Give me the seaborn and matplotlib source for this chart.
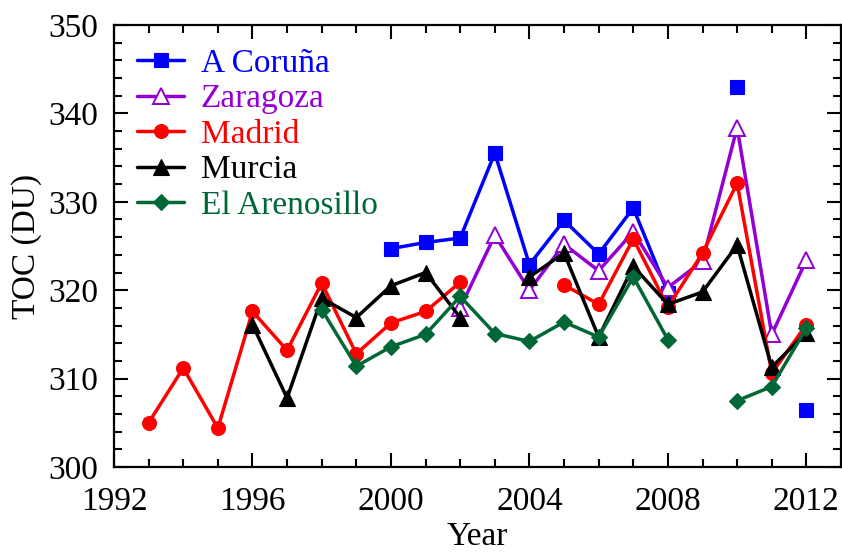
import numpy as np
import pandas as pd
import matplotlib
matplotlib.use("Agg")
import matplotlib.pyplot as plt
from matplotlib.lines import Line2D
from matplotlib.ticker import MultipleLocator
import seaborn as sns

sns.set_theme(style="ticks")
plt.rcParams["font.family"] = ["Liberation Serif", "DejaVu Serif"]
plt.rcParams["text.color"] = "black"
plt.rcParams["axes.labelcolor"] = "black"
plt.rcParams["xtick.color"] = "black"
plt.rcParams["ytick.color"] = "black"

# Annual total ozone column (DU) per station, NaN where no data
years = list(range(1993, 2013))
nan = np.nan
a_coruna = [nan, nan, nan, nan, nan, nan, nan, 324.7, 325.4, 325.9,
            335.5, 322.9, 327.9, 324.1, 329.3, 319.7, nan, 343.0, nan, 306.4]
zaragoza = [nan, nan, nan, nan, nan, nan, nan, nan, nan, 318.0,
            326.2, 320.0, 325.2, 322.2, 326.6, 320.3, 323.3, 338.4, 315.0, 323.4]
madrid = [305.0, 311.2, 304.4, 317.6, 313.2, 320.8, 312.8, 316.3, 317.6, 320.9,
          nan, nan, 320.6, 318.4, 325.8, 318.1, 324.2, 332.1, 310.6, 316.1]
murcia = [nan, nan, nan, 316.1, 307.8, 319.1, 316.9, 320.5, 322.0, 316.9,
          nan, 321.5, 324.2, 314.7, 322.7, 318.4, 319.8, 325.1, 311.3, 315.2]
arenosillo = [nan, nan, nan, nan, nan, 317.8, 311.4, 313.6, 315.0, 319.3,
              315.1, 314.2, 316.4, 314.7, 321.5, 314.4, nan, 307.5, 309.1, 315.7]

stations = ["A Coruña", "Zaragoza", "Madrid", "Murcia", "El Arenosillo"]
series = [a_coruna, zaragoza, madrid, murcia, arenosillo]
colors = ["#0000ff", "#9400d3", "#ff0000", "#000000", "#006837"]
markers = ["s", "^", "o", "^", "D"]
msizes = [10, 11, 10, 11, 8.5]
filled = [True, False, True, True, True]

x_ticks = [1992, 1996, 2000, 2004, 2008, 2012]
y_ticks = [300, 310, 320, 330, 340, 350]

# Long-form table; consecutive valid years share a segment id so gaps stay open
rows = []
for name, vals in zip(stations, series):
    seg = 0
    prev_ok = False
    for yr, v in zip(years, vals):
        ok = not np.isnan(v)
        if ok and not prev_ok:
            seg += 1
        if ok:
            rows.append({"Year": yr, "TOC": v, "station": name, "segment": seg})
        prev_ok = ok
df = pd.DataFrame(rows)

fig = plt.figure(figsize=(8.42, 5.59), dpi=100)
ax = fig.add_axes([0.1354, 0.1646, 0.8634, 0.7907])

handles = []
for name, col, mk, ms, fl in zip(stations, colors, markers, msizes, filled):
    sub = df[df["station"] == name]
    mfc = col if fl else "white"
    mew = 1.4 if not fl else 0.8
    sns.lineplot(data=sub, x="Year", y="TOC", units="segment", estimator=None,
                 color=col, marker=mk, markersize=ms, markerfacecolor=mfc,
                 markeredgecolor=col, markeredgewidth=mew,
                 linewidth=2.5, legend=False, ax=ax)
    handles.append(Line2D([], [], color=col, marker=mk, markersize=ms,
                          markerfacecolor=mfc, markeredgecolor=col,
                          markeredgewidth=mew, linewidth=2.5))

ax.set_xlim(1992, 2013)
ax.set_ylim(300, 350)
ax.set_xticks(x_ticks)
ax.set_yticks(y_ticks)
ax.xaxis.set_minor_locator(MultipleLocator(1))
ax.yaxis.set_minor_locator(MultipleLocator(2))
ax.tick_params(which="both", direction="in", top=True, right=True,
               labeltop=False, labelright=False, width=1.5, color="black")
ax.tick_params(which="major", length=10, labelsize=24)
ax.tick_params(which="minor", length=5.5)
ax.tick_params(axis="x", which="major", pad=14)
ax.tick_params(axis="y", which="major", pad=11.5)
for sp in ax.spines.values():
    sp.set_linewidth(1.6)
    sp.set_color("black")

ax.set_xlabel("Year", fontsize=24, labelpad=3)
ax.set_ylabel("TOC (DU)", fontsize=24, labelpad=4)

leg = ax.legend(handles, stations, loc="upper left", frameon=False,
                fontsize=24, handlelength=1.4, handletextpad=0.5,
                labelspacing=0.15, borderaxespad=0.3,
                labelcolor="linecolor")

fig.savefig("out.png", dpi=100)
